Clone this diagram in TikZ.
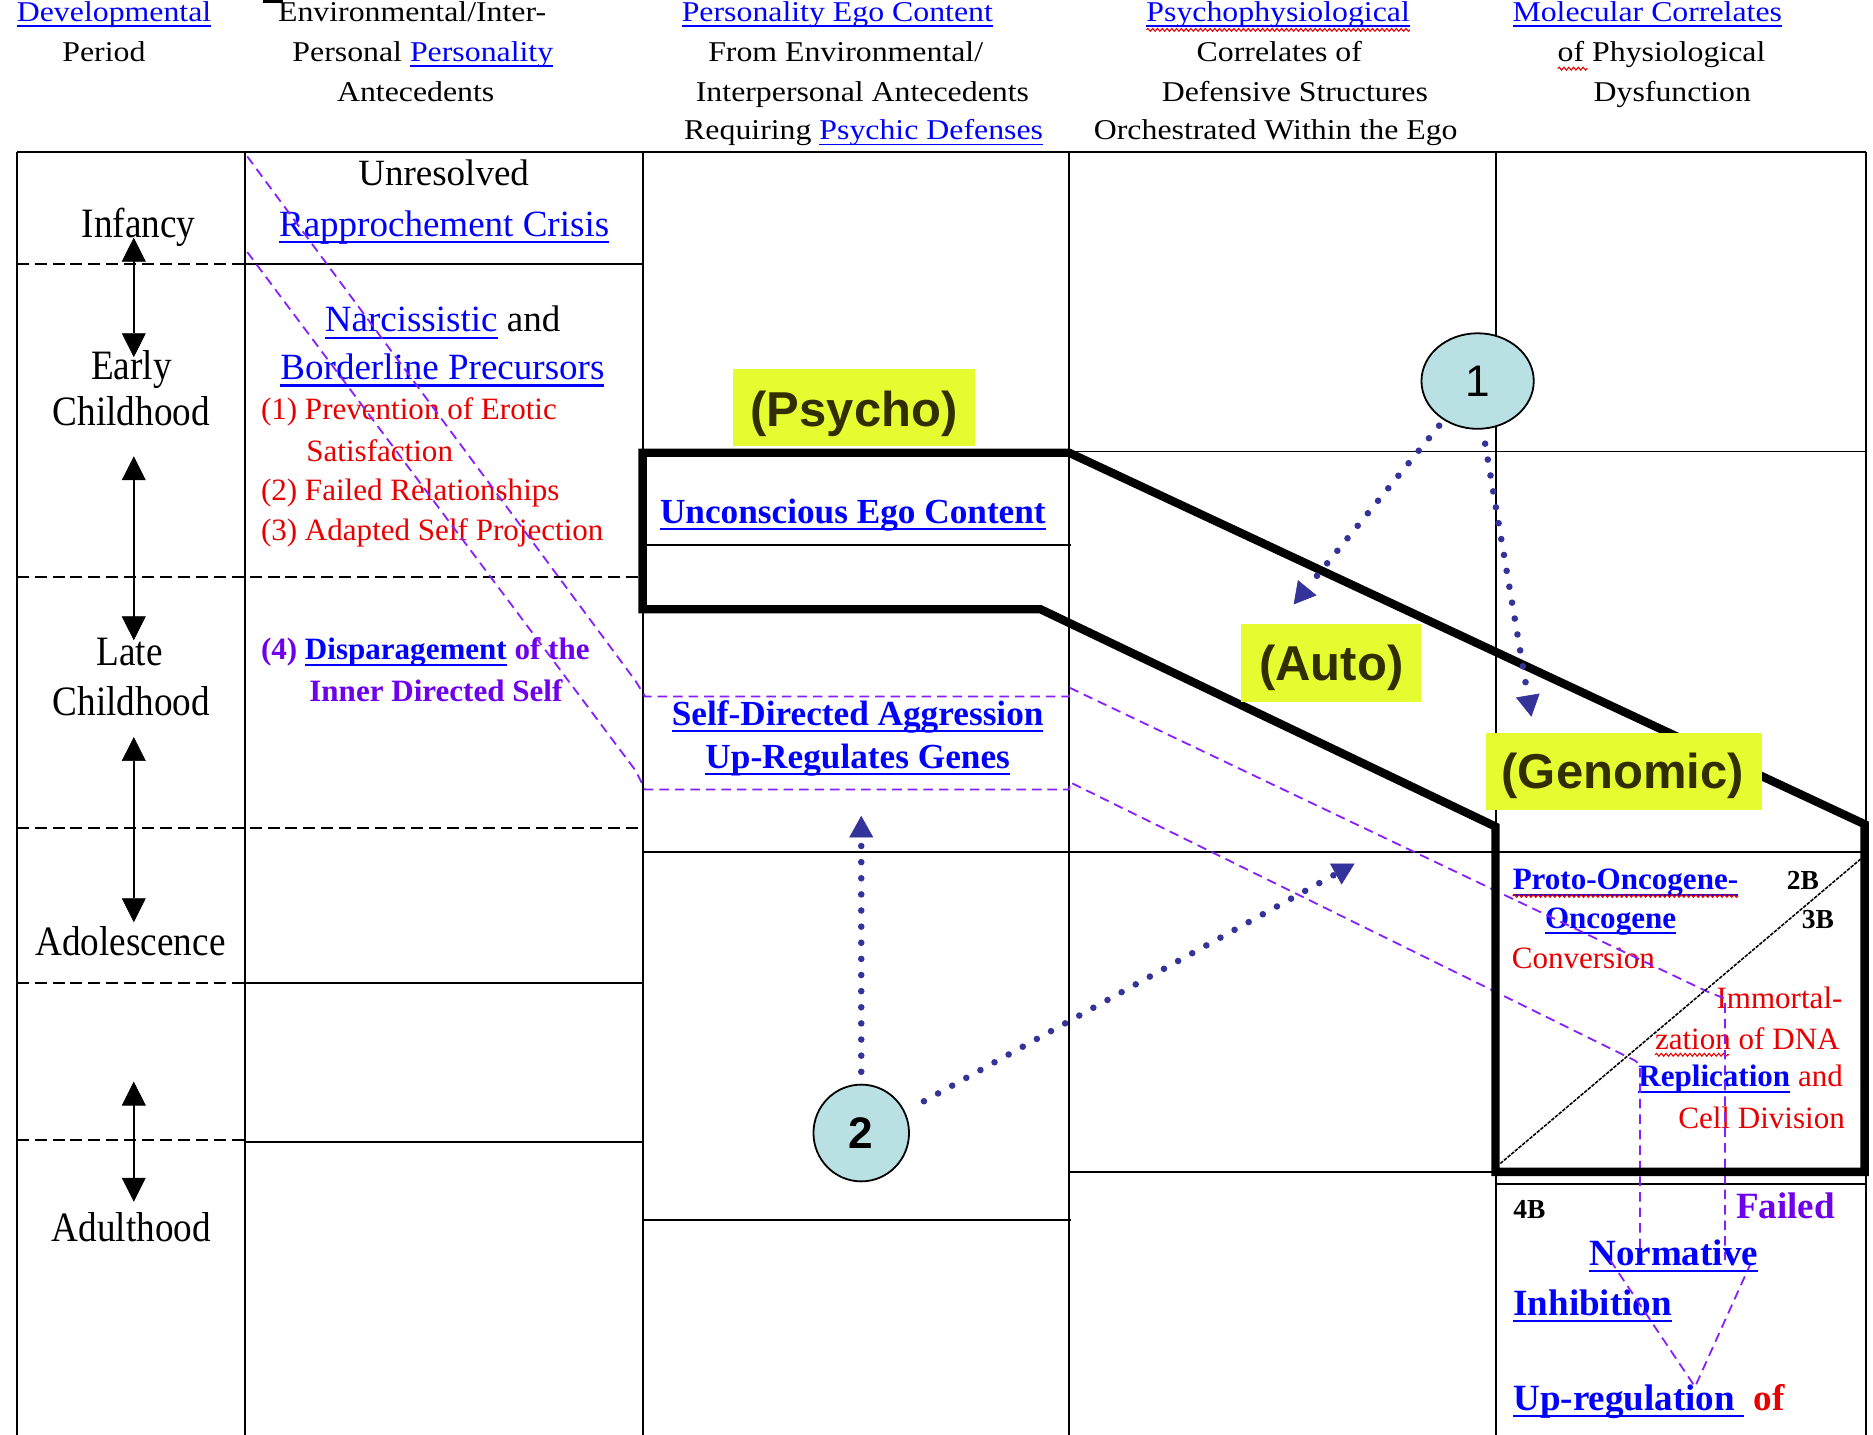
\documentclass[tikz,border=0pt]{standalone}
\usepackage{fontspec}
\setmainfont{Liberation Serif}
\setsansfont{Liberation Sans}
\newfontfamily\hdrfam[FakeStretch=1.11]{Liberation Serif}
\newfontfamily\rowfam[FakeStretch=0.89]{Liberation Serif}
\usetikzlibrary{arrows.meta,shapes.geometric,decorations.pathmorphing,calc}
\definecolor{lnk}{RGB}{0,0,255}
\definecolor{redt}{RGB}{232,0,0}
\definecolor{purt}{RGB}{110,0,235}
\definecolor{purl}{RGB}{135,30,255}
\definecolor{navyd}{RGB}{51,51,153}
\definecolor{ylw}{RGB}{228,252,48}
\definecolor{olv}{RGB}{51,46,0}
\definecolor{cfill}{RGB}{185,224,227}
\newsavebox\ulbx
\newcommand\ulx[1]{\sbox\ulbx{#1}\rlap{\rule[-0.2em]{\wd\ulbx}{0.065em}}\usebox\ulbx}
\newcommand\fHdr{\hdrfam\fontsize{24}{28}\selectfont}
\newcommand\fRow{\rowfam\fontsize{35}{40}\selectfont}
\newcommand\fBig{\rmfamily\fontsize{31}{36}\selectfont}
\newcommand\fMed{\rmfamily\fontsize{26}{30}\selectfont}
\newcommand\fMedB{\rmfamily\bfseries\fontsize{26}{30}\selectfont}
\newcommand\fBld{\rmfamily\bfseries\fontsize{29.5}{34}\selectfont}
\newcommand\fBigB{\rmfamily\bfseries\fontsize{31}{36}\selectfont}
\newcommand\fSmB{\rmfamily\bfseries\fontsize{23}{27}\selectfont}
\newcommand\fLab{\sffamily\bfseries\fontsize{41}{46}\selectfont}
\tikzset{
  tx/.style={anchor=base, inner sep=0pt, outer sep=0pt},
  tl/.style={anchor=base west, inner sep=0pt, outer sep=0pt},
  gridln/.style={line width=1.6pt, black},
  gridda/.style={line width=1.8pt, black, dash pattern=on 10pt off 5pt},
  thickbox/.style={line width=7pt, black},
  diagln/.style={line width=1.3pt, black, dash pattern=on 3pt off 1pt},
  purpdash/.style={draw=purl, line width=1.5pt, dash pattern=on 8pt off 5pt},
  wavy/.style={draw=redt, line width=0.9pt, decorate, decoration={snake, amplitude=1.2pt, segment length=4pt}},
  dotarrow/.style={draw=navyd, line width=5.5pt, line cap=round, dash pattern=on 0pt off 13.5pt,
      -{Triangle[width=20pt,length=18pt,line width=0.5pt,fill=navyd]}},
  dbl/.style={line width=1.7pt, black,
      {Triangle[width=20pt,length=20pt,line width=0.5pt]}-{Triangle[width=20pt,length=20pt,line width=0.5pt]}},
  ybox/.style={fill=ylw, draw=none, inner sep=0pt, outer sep=0pt},
  ytxt/.style={anchor=base, inner sep=0pt, text=olv, font=\fLab},
  circ/.style={ellipse, draw=black, line width=1.5pt, fill=cfill, inner sep=0pt, font=\sffamily\fontsize{37}{40}\selectfont}
}
\begin{document}
\begin{tikzpicture}[x=1pt,y=-1pt]
\useasboundingbox (0,0) rectangle (1568,1201);
\clip (0,0) rectangle (1568,1201);
\fill[white] (0,0) rectangle (1568,1201);
\fill[black] (220,0) rectangle (237,2.5);

% ---------- grid ----------
\foreach \xx in {14,205,538,895,1252,1562} {\draw[gridln] (\xx,127) -- (\xx,1205);}
\draw[gridln] (14,127) -- (1562,127);
\draw[gridda] (14,221) -- (205,221);
\draw[gridln] (205,221) -- (538,221);
\draw[gridda] (14,483) -- (538,483);
\draw[gridda] (14,693) -- (538,693);
\draw[gridda] (14,823) -- (205,823);
\draw[gridln] (205,823) -- (538,823);
\draw[gridda] (14,954) -- (205,954);
\draw[gridln] (205,956) -- (538,956);
\draw[gridln] (538,456) -- (897,456);
\draw[gridln] (538,713) -- (1562,713);
\draw[gridln] (538,1021) -- (897,1021);
\draw[gridln] (895,378) -- (1562,378);
\draw[gridln] (895,981) -- (1252,981);
\draw[gridln] (1252,991) -- (1562,991);

% ---------- header ----------
\begin{scope}[every node/.append style={font=\fHdr}]
\node[tx] (h1a) at (95.5,18) {\color{lnk}\ulx{Developmental}};
\node[tx] (h1b) at (87,51.5) {Period};
\node[tx] (h2a) at (345,18) {Environmental/Inter-};
\node[tx] (h2b) at (354,51.5) {Personal \textcolor{lnk}{\ulx{Personality}}};
\node[tx] (h2c) at (348,85) {Antecedents};
\node[tx] (h3a) at (701,18) {\color{lnk}\ulx{Personality Ego Content}};
\node[tx] (h3b) at (708,51.5) {From Environmental/};
\node[tx] (h3c) at (722,85) {Interpersonal Antecedents};
\node[tx] (h3d) at (723,117) {Requiring \textcolor{lnk}{\ulx{Psychic Defenses}}};
\node[tx] (h4a) at (1070,18) {\color{lnk}\ulx{Psychophysiological}};
\node[tx] (h4b) at (1071,51.5) {Correlates of};
\node[tx] (h4c) at (1084,85) {Defensive Structures};
\node[tx] (h4d) at (1068,117) {Orchestrated Within the Ego};
\node[tx] (h5a) at (1379,18) {\color{lnk}\ulx{Molecular Correlates}};
\node[tx] (h5b) at (1391,51.5) {of Physiological};
\node[tx] (h5c) at (1400,85) {Dysfunction};
\end{scope}
\draw[wavy] ([yshift=-7pt]h4a.base west) -- ([yshift=-7pt]h4a.base east);
\draw[wavy] ([yshift=-6pt]h5b.base west) -- ++(25,0);

% ---------- row labels ----------
\begin{scope}[every node/.append style={font=\fRow}]
\node[tx] (rInf) at (116,198.7) {Infancy};
\node[tx] (rEar) at (110,318) {Early};
\node[tx] (rEc) at (110,356.6) {Childhood};
\node[tx] (rLat) at (108.4,557.5) {Late};
\node[tx] (rLc) at (110,598.6) {Childhood};
\node[tx] (rAdo) at (109.3,799.5) {Adolescence};
\node[tx] (rAdu) at (110,1039.5) {Adulthood};
\end{scope}
\coordinate (a1t) at (112,199); \coordinate (a1b) at (112,299);
\coordinate (a2t) at (112,382); \coordinate (a2b) at (112,536);
\coordinate (a3t) at (112,617); \coordinate (a3b) at (112,772);
\coordinate (a4t) at (112,905.5); \coordinate (a4b) at (112,1006);
\draw[dbl] (a1t) -- (a1b);
\draw[dbl] (a2t) -- (a2b);
\draw[dbl] (a3t) -- (a3b);
\draw[dbl] (a4t) -- (a4b);

% ---------- column 2 ----------
\begin{scope}[every node/.append style={font=\fBig}]
\node[tx] (c2a) at (371.4,154.9) {Unresolved};
\node[tx] (c2b) at (371.8,197.6) {\color{lnk}\ulx{Rapprochement Crisis}};
\node[tx] (c2c) at (370.5,277.7) {{\color{lnk}\ulx{Narcissistic}} and};
\node[tx] (c2d) at (370.4,317.6) {\color{lnk}\ulx{Borderline Precursors}};
\end{scope}
\begin{scope}[every node/.append style={font=\fMed, text=redt}]
\node[tl] (r1) at (218.5,351) {(1) Prevention of Erotic};
\node[tl] (r1b) at (256.5,386.5) {Satisfaction};
\node[tl] (r2) at (218.5,419.4) {(2) Failed Relationships};
\node[tl] (r3) at (218.5,452.1) {(3) Adapted Self Projection};
\end{scope}
\begin{scope}[every node/.append style={font=\fMedB, text=purt}]
\node[tl] (r4) at (218.5,552.5) {(4) {\color{lnk}\ulx{Disparagement}} of the};
\node[tl] (r4b) at (259,587.4) {Inner Directed Self};
\end{scope}

% ---------- column 3 ----------
\begin{scope}[every node/.append style={font=\fBld}]
\node[tx] (uec) at (714,438) {\color{lnk}\ulx{Unconscious Ego Content}};
\node[tx] (sda) at (718,607) {\color{lnk}\ulx{Self-Directed Aggression}};
\node[tx] (urg) at (718,643) {\color{lnk}\ulx{Up-Regulates Genes}};
\end{scope}

% ---------- column 5 ----------
\node[tl, font=\fMedB] (proto) at (1266.4,745) {\color{lnk}\ulx{Proto-Oncogene-}};
\node[tl, font=\fSmB] (b2) at (1495.8,745) {2B};
\node[tl, font=\fMedB] (onco) at (1293.4,777) {\color{lnk}\ulx{Oncogene}};
\node[tl, font=\fSmB] (b3) at (1508.4,777) {3B};
\node[tl, font=\fMed, text=redt] (conv) at (1265.6,810.7) {Conversion};
\node[tl, font=\fMed, text=redt] (imm) at (1437,844) {Immortal-};
\node[tl, font=\fMed, text=redt] (zat) at (1385.5,879) {zation of DNA};
\node[tl, font=\fMed] (repl) at (1371.6,909.7) {{\bfseries\color{lnk}\ulx{Replication}} \textcolor{redt}{and}};
\node[tl, font=\fMed, text=redt] (cdiv) at (1405,944.6) {Cell Division};
\draw[wavy] ([yshift=-5pt]proto.base west) -- ([yshift=-5pt]proto.base east);
\draw[wavy] ([yshift=-4pt]zat.base west) -- ++(62,0);

\node[tl, font=\fSmB] (b4) at (1267,1020) {4B};
\node[tl, font=\fBigB, text=purt] (fail) at (1453.4,1020) {Failed};
\node[tl, font=\fBigB] (norm) at (1330.5,1059) {\color{lnk}\ulx{Normative}};
\node[tl, font=\fBigB] (inhib) at (1267,1100.9) {\color{lnk}\ulx{Inhibition}};
\node[tl, font=\fBigB] (upreg) at (1267,1180.4) {{\color{lnk}\ulx{Up-regulation\ }}\hspace{8pt}\textcolor{redt}{of}};

% ---------- purple dashed traces ----------
\draw[purpdash] (207,131) -- (532,570) -- (540,583) -- (895,583) -- (896,576) -- (1429,830) -- (1444,836) -- (1444,1055);
\draw[purpdash] (207,211) -- (532,645) -- (540,661) -- (895,661) -- (896,655) -- (1369,888) -- (1373,892) -- (1373,1047);
\draw[purpdash] (1348,1055) -- (1419,1161) -- (1465,1059);

% ---------- thick bracket ----------
\draw[thickbox] (538,379) -- (895,379) -- (1561,690) -- (1561,981) -- (1252,981) -- (1252,692) -- (871,510) -- (538,510) -- cycle;
\draw[diagln] (1256,974) -- (1559,718);

% ---------- yellow labels ----------
\node[ybox, minimum width=202pt, minimum height=65pt] (psyB) at (715,341) {};
\node[ytxt] (psyT) at (715,357) {(Psycho)};
\node[ybox, minimum width=151pt, minimum height=65pt] (autB) at (1114.5,555) {};
\node[ytxt] (autT) at (1114.5,569.5) {(Auto)};
\node[ybox, minimum width=231pt, minimum height=64pt] (genB) at (1359.2,645.7) {};
\node[ytxt] (genT) at (1358.5,660) {(Genomic)};

% ---------- numbered circles and dotted arrows ----------
\node[circ, minimum width=94pt, minimum height=80pt] (c1) at (1237,319) {1};
\node[circ, minimum width=80pt, minimum height=81pt, font=\sffamily\bfseries\fontsize{37}{40}\selectfont] (c2) at (721,948.5) {2};
\coordinate (tAuto) at (1083,506);
\coordinate (tGen) at (1282,600);
\coordinate (tUp) at (721,683);
\coordinate (tDiag) at (1134,723);
\draw[dotarrow, shorten <=6pt] (c1.229) -- (tAuto);
\draw[dotarrow, shorten <=12pt] (c1.276) -- (tGen);
\draw[dotarrow, shorten <=10pt] (c2.north) -- (tUp);
\draw[dotarrow, shorten <=18pt] (c2.26) -- (tDiag);
\end{tikzpicture}
\end{document}
